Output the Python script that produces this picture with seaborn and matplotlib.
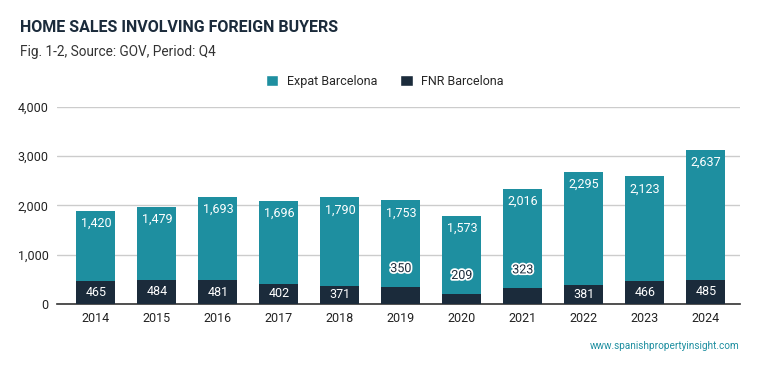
import seaborn as sns
import matplotlib.pyplot as plt
import matplotlib.patheffects as pe
from matplotlib.patches import Patch
from matplotlib.ticker import FuncFormatter
import pandas as pd

# Data
years = ['2014', '2015', '2016', '2017', '2018', '2019', '2020', '2021', '2022', '2023', '2024']
expat = [1420, 1479, 1693, 1696, 1790, 1753, 1573, 2016, 2295, 2123, 2637]
fnr = [465, 484, 481, 402, 371, 350, 209, 323, 381, 466, 485]

TEAL = '#1e8fa0'
DARK = '#1b2b3b'


def main():
    df = pd.DataFrame({'year': years, 'expat': expat, 'fnr': fnr})
    df['total'] = df['expat'] + df['fnr']

    sns.set_style('white')
    plt.rcParams['font.family'] = ['Roboto', 'DejaVu Sans']

    fig = plt.figure(figsize=(7.59, 3.71), dpi=100)
    ax = fig.add_axes([0.075, 0.181, 0.900, 0.531])

    # Stacked bars: total in teal, FNR drawn over it in dark
    sns.barplot(data=df, x='year', y='total', color=TEAL, width=0.64, saturation=1, linewidth=0,
                ax=ax, zorder=2)
    sns.barplot(data=df, x='year', y='fnr', color=DARK, width=0.64, saturation=1, linewidth=0,
                ax=ax, zorder=3)

    ax.set_ylim(0, 4000)
    ax.set_xlim(-0.64, 10.56)
    ax.set_yticks([0, 1000, 2000, 3000, 4000])
    ax.yaxis.set_major_formatter(FuncFormatter(lambda v, p: f'{int(v):,}'))
    ax.grid(axis='y', color='#cccccc', linewidth=1, zorder=0)
    ax.set_axisbelow(True)
    for s in ['top', 'right', 'left']:
        ax.spines[s].set_visible(False)
    ax.spines['bottom'].set_color('#333333')
    ax.spines['bottom'].set_linewidth(1.2)
    ax.tick_params(axis='both', length=0, labelsize=9, colors='#222222', pad=6)
    ax.set_xlabel('')
    ax.set_ylabel('')

    # Value labels
    for i, row in df.iterrows():
        ax.annotate(f"{row['expat']:,}", (i, row['total']), xytext=(0, -9), textcoords='offset points',
                    ha='center', va='center', color='white', fontsize=9, zorder=5)
        if row['fnr'] >= 360:
            ax.text(i, row['fnr'] / 2, f"{row['fnr']:,}", ha='center', va='center',
                    color='white', fontsize=9, zorder=5)
        else:
            ax.annotate(f"{row['fnr']:,}", (i, row['fnr']), xytext=(0, 13), textcoords='offset points',
                        ha='center', va='center', color=DARK, fontsize=9, zorder=5,
                        path_effects=[pe.withStroke(linewidth=2.5, foreground='white')])

    # Titles
    fig.text(0.026, 0.927, 'HOME SALES INVOLVING FOREIGN BUYERS', fontsize=11.5, fontweight='bold',
             color=DARK, va='center')
    fig.text(0.026, 0.86, 'Fig. 1-2, Source: GOV, Period: Q4', fontsize=9.8, color='#333333', va='center')

    handles = [Patch(facecolor=TEAL, label='Expat Barcelona'), Patch(facecolor=DARK, label='FNR Barcelona')]
    fig.legend(handles=handles, loc='center', bbox_to_anchor=(0.507, 0.781), ncol=2, frameon=False,
               fontsize=9, handlelength=1.0, handleheight=1.0, columnspacing=1.8, handletextpad=0.7)

    fig.text(0.975, 0.067, 'www.spanishpropertyinsight.com', fontsize=7.2, color=TEAL,
             ha='right', va='center')

    plt.savefig('out.png', dpi=100)


if __name__ == '__main__':
    main()
